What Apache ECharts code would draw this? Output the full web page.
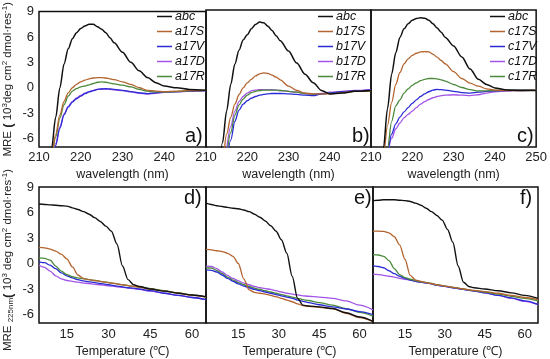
<!DOCTYPE html>
<html>
<head>
<meta charset="utf-8">
<script src="https://cdn.jsdelivr.net/npm/echarts@6/dist/echarts.min.js"></script>
<style>html,body{margin:0;padding:0;background:#fff}#c{width:550px;height:359px}</style>
</head>
<body>
<div id="c"></div>
<script>
// ---------- data ----------
const wavelength = [212,213,214,215,216,217,218,219,220,221,222,223,224,225,226,227,228,230,232,234,236,238,240,243,246,250];

const a_abc  = [-12,-7.2,-3.5,0,2.8,4.6,5.8,6.5,7.0,7.3,7.5,7.5,7.2,6.9,6.5,5.9,5.3,4.2,3.0,2.0,1.2,0.6,0.2,0.0,-0.2,-0.3];
const a_17S  = [-12,-8,-5.5,-3.2,-1.6,-0.6,0.0,0.4,0.7,0.9,1.05,1.15,1.2,1.2,1.15,1.05,0.95,0.7,0.4,0.0,-0.3,-0.4,-0.45,-0.4,-0.35,-0.3];
const a_17V  = [null,-9.5,-6.8,-4.8,-3.2,-2.3,-1.7,-1.3,-1.0,-0.7,-0.5,-0.35,-0.2,-0.15,-0.12,-0.15,-0.2,-0.3,-0.45,-0.6,-0.7,-0.6,-0.5,-0.45,-0.4,-0.35];
const a_17D  = [null,-9.3,-6.6,-4.6,-3.1,-2.2,-1.6,-1.2,-0.9,-0.65,-0.45,-0.3,-0.2,-0.15,-0.15,-0.2,-0.25,-0.35,-0.5,-0.65,-0.75,-0.65,-0.55,-0.5,-0.4,-0.35];
const a_17R  = [-12,-8.2,-5.8,-3.6,-2.0,-1.0,-0.4,-0.1,0.1,0.2,0.35,0.5,0.65,0.7,0.65,0.55,0.45,0.3,0.1,-0.2,-0.4,-0.5,-0.5,-0.45,-0.35,-0.3];

const b_abc  = [null,-11,-6.5,-2.8,0.3,2.7,4.3,5.5,6.1,6.8,7.3,7.6,7.5,7.1,6.6,6.0,5.4,4.2,2.8,1.5,0.5,-0.4,-0.8,-0.7,-0.5,-0.4];
const b_17S  = [null,-13,-8.5,-5.5,-3.5,-2.0,-0.9,-0.1,0.5,0.9,1.3,1.55,1.65,1.6,1.4,1.15,0.85,0.1,-0.4,-0.7,-0.8,-0.8,-0.8,-0.65,-0.5,-0.45];
const b_17V  = [null,null,null,-9,-6.2,-4.0,-2.7,-2.0,-1.6,-1.3,-1.1,-0.95,-0.85,-0.8,-0.75,-0.75,-0.75,-0.8,-0.85,-0.95,-1.0,-0.8,-0.7,-0.55,-0.45,-0.35];
const b_17D  = [null,null,null,-7.3,-4.6,-2.8,-1.7,-1.1,-0.7,-0.45,-0.35,-0.3,-0.3,-0.3,-0.3,-0.35,-0.4,-0.5,-0.6,-0.75,-0.85,-0.75,-0.6,-0.5,-0.4,-0.3];
const b_17R  = [null,null,null,-8.2,-5.3,-3.3,-2.1,-1.4,-0.95,-0.65,-0.5,-0.4,-0.35,-0.35,-0.35,-0.35,-0.4,-0.5,-0.6,-0.75,-0.85,-0.8,-0.7,-0.6,-0.5,-0.45];

const c_abc  = [-14,-7.2,-2.5,1.5,4.0,5.8,6.8,7.4,7.8,8.0,8.1,8.05,7.8,7.4,6.9,6.4,5.8,4.8,3.5,2.1,0.9,0.3,-0.1,-0.35,-0.4,-0.4];
const c_17S  = [-16,-8,-4.5,-1.8,0.3,1.7,2.7,3.3,3.7,3.95,4.1,4.15,4.1,3.85,3.5,3.1,2.7,1.8,1.0,0.45,0.1,-0.2,-0.35,-0.4,-0.4,-0.35];
const c_17V  = [null,-16,-7.5,-5.5,-4.3,-3.5,-2.9,-2.4,-1.9,-1.5,-1.1,-0.8,-0.55,-0.35,-0.28,-0.3,-0.35,-0.5,-0.65,-0.7,-0.6,-0.5,-0.45,-0.4,-0.35,-0.35];
const c_17D  = [null,null,-8.2,-6.0,-4.9,-4.2,-3.6,-3.2,-2.8,-2.4,-2.0,-1.7,-1.45,-1.25,-1.1,-1.0,-0.95,-0.9,-0.95,-1.0,-0.9,-0.7,-0.55,-0.45,-0.4,-0.35];
const c_17R  = [null,-12,-7.2,-4.0,-2.2,-1.5,-0.7,-0.2,0.2,0.5,0.75,0.9,1.0,1.0,0.95,0.85,0.7,0.3,-0.05,-0.3,-0.45,-0.45,-0.4,-0.35,-0.35,-0.35];

const temp_d = [5,7,9,11,13,15,17,19,21,23,25,27,29,31,33,35,37,39,41,45,50,55,60,65];
const d_abc = [7.0,6.95,6.9,6.85,6.8,6.75,6.55,6.35,6.1,5.8,5.4,4.95,4.4,3.8,2.3,-0.3,-1.9,-2.5,-2.7,-3.0,-3.25,-3.5,-3.7,-3.9];
const d_17S = [1.9,1.85,1.7,1.45,1.1,0.55,-0.4,-1.35,-1.75,-1.9,-2.0,-2.1,-2.2,-2.3,-2.4,-2.5,-2.6,-2.7,-2.8,-3.0,-3.25,-3.5,-3.75,-3.95];
const d_17V = [0.2,0.1,-0.2,-0.6,-1.1,-1.45,-1.7,-1.9,-2.05,-2.15,-2.25,-2.35,-2.45,-2.55,-2.65,-2.75,-2.85,-2.9,-3.0,-3.2,-3.5,-3.75,-4.0,-4.25];
const d_17D = [-0.2,-0.45,-0.9,-1.45,-1.8,-2.0,-2.1,-2.2,-2.3,-2.35,-2.45,-2.5,-2.6,-2.65,-2.75,-2.8,-2.9,-2.95,-3.05,-3.25,-3.5,-3.75,-4.0,-4.25];
const d_17R = [0.65,0.6,0.4,-0.3,-0.9,-1.3,-1.55,-1.7,-1.8,-1.9,-2.0,-2.1,-2.2,-2.3,-2.4,-2.5,-2.6,-2.7,-2.75,-2.95,-3.2,-3.45,-3.7,-3.95];

const temp_ef = [3,5,7,9,11,13,15,17,19,21,23,25,27,29,31,33,35,37,39,41,45,50,55,60,65];
const e_abc = [7.1,6.95,6.8,6.7,6.6,6.5,6.45,6.3,6.1,5.8,5.45,5.0,4.45,3.8,2.8,1.2,-1.5,-4.1,-4.9,-5.0,-5.1,-5.3,-5.8,-6.3,-6.8];
const e_17S = [1.65,1.6,1.5,1.4,1.2,0.85,0.0,-1.8,-3.1,-3.4,-3.5,-3.6,-3.75,-3.9,-4.1,-4.3,-4.5,-4.75,-4.95,-5.05,-5.15,-5.3,-5.85,-6.35,-6.85];
const e_17V = [-0.75,-0.8,-1.0,-1.35,-1.75,-2.1,-2.4,-2.65,-2.85,-3.05,-3.2,-3.35,-3.5,-3.65,-3.8,-3.95,-4.1,-4.3,-4.45,-4.6,-4.85,-5.1,-5.35,-5.65,-6.0];
const e_17D = [-0.3,-0.35,-0.6,-1.0,-1.4,-1.75,-2.05,-2.3,-2.5,-2.7,-2.85,-2.95,-3.05,-3.2,-3.35,-3.5,-3.6,-3.7,-3.8,-3.85,-3.95,-4.1,-4.4,-4.9,-5.45];
const e_17R = [-0.5,-0.55,-0.8,-1.2,-1.6,-1.95,-2.25,-2.5,-2.7,-2.9,-3.05,-3.2,-3.35,-3.5,-3.65,-3.8,-3.95,-4.1,-4.25,-4.35,-4.6,-4.9,-5.3,-5.75,-6.2];

const f_abc = [7.4,7.45,7.5,7.5,7.5,7.45,7.4,7.3,7.1,6.85,6.5,6.1,5.65,5.1,4.0,2.5,-0.3,-2.2,-2.7,-2.85,-3.0,-3.2,-3.45,-3.75,-4.1];
const f_17S = [3.8,3.8,3.78,3.6,3.15,2.2,0.5,-1.4,-1.95,-2.1,-2.25,-2.35,-2.5,-2.6,-2.7,-2.8,-2.9,-3.0,-3.1,-3.15,-3.3,-3.5,-3.75,-4.0,-4.25];
const f_17V = [-0.25,-0.35,-0.5,-0.85,-1.2,-1.5,-1.75,-1.95,-2.1,-2.2,-2.3,-2.4,-2.55,-2.65,-2.75,-2.85,-2.95,-3.05,-3.15,-3.25,-3.45,-3.75,-4.05,-4.4,-4.8];
const f_17D = [-1.25,-1.3,-1.4,-1.5,-1.6,-1.75,-1.85,-1.95,-2.1,-2.2,-2.3,-2.4,-2.55,-2.65,-2.75,-2.85,-2.95,-3.05,-3.15,-3.25,-3.45,-3.75,-4.1,-4.45,-4.85];
const f_17R = [1.05,1.0,0.85,0.35,-0.6,-1.3,-1.65,-1.85,-2.0,-2.15,-2.25,-2.35,-2.5,-2.6,-2.7,-2.8,-2.9,-3.0,-3.1,-3.2,-3.35,-3.6,-3.85,-4.1,-4.4];

const yTicks = [-6,-3,0,3,6,9];
const tempTicks = [15,30,45,60];
const legendA = ['abc','a17S','a17V','a17D','a17R'];
const legendB = ['abc','b17S','b17V','b17D','b17R'];
const legendC = ['abc','c17S','c17V','c17D','c17R'];
const panelLabels = ['a)','b)','c)','d)','e)','f)'];

// ---------- styling ----------
const COL = {abc:'#111111', S:'#b3642f', V:'#2b2bd6', D:'#a355e6', R:'#4a8a3a'};
const FONT = 'Liberation Sans, Arial, sans-serif';

const grids = [
  {left:37, top:10, width:169, height:137},
  {left:206, top:10, width:165, height:137},
  {left:371, top:10, width:167, height:137},
  {left:38, top:187, width:168, height:139},
  {left:206, top:187, width:167, height:139},
  {left:373, top:187, width:165, height:139}
].map(g => Object.assign(g, {show:true, borderColor:'#111', borderWidth:1.5, backgroundColor:'transparent'}));

const labelStyle = {fontFamily:FONT, fontSize:13, color:'#222'};

const xAxes = [];
for (let i=0;i<3;i++) xAxes.push({
  type:'value', gridIndex:i, min:210, max:250, interval:10,
  axisLine:{show:false}, axisTick:{show:false}, splitLine:{show:false},
  axisLabel:Object.assign({margin:4, showMaxLabel:i===2}, labelStyle),
  name:'wavelength (nm)', nameLocation:'middle', nameGap:21,
  nameTextStyle:{fontFamily:FONT, fontSize:12.5, color:'#222'}
});
for (let i=3;i<6;i++) xAxes.push({
  type:'value', gridIndex:i, min:i===3?5:3, max:65,
  axisLine:{show:false}, axisTick:{show:false}, splitLine:{show:false},
  axisLabel:Object.assign({margin:5, customValues:tempTicks}, labelStyle),
  name:'Temperature (\u2103)', nameLocation:'middle', nameGap:22,
  nameTextStyle:{fontFamily:FONT, fontSize:12.5, color:'#222'}
});

const supRich = {
  t:{fontFamily:FONT, fontSize:11.5, color:'#222', lineHeight:14},
  s:{fontFamily:FONT, fontSize:8, color:'#222', verticalAlign:'top', lineHeight:14},
  b:{fontFamily:FONT, fontSize:8, color:'#222', verticalAlign:'bottom', lineHeight:14},
  p:{fontFamily:FONT, fontSize:13, fontWeight:'bold', color:'#222', lineHeight:14}
};
const yAxes = [];
for (let i=0;i<6;i++) {
  const y = {
    type:'value', gridIndex:i, min:-7, max:9,
    axisLine:{show:false}, axisTick:{show:false}, splitLine:{show:false},
    axisLabel:Object.assign({show:(i===0||i===3), margin:5, customValues:yTicks}, labelStyle)
  };
  if (i===0) {
    y.name = '{t|MRE }{p|(}{t| 10}{s|3}{t|deg cm}{s|2}{t| dmol\u00b7res}{s|-1}{t|)}';
    y.nameLocation='middle'; y.nameRotate=90; y.nameGap=24;
    y.nameTextStyle = {rich:supRich};
  }
  if (i===3) {
    y.name = '{t|MRE }{b|225nm}{p|(}{t| 10}{s|3}{t| deg cm}{s|2}{t| dmol\u00b7res}{s|-1}{t|)}';
    y.nameLocation='middle'; y.nameRotate=90; y.nameGap=24;
    y.nameTextStyle = {rich:supRich, padding:[0,0,0,-10]};
  }
  yAxes.push(y);
}

function mk(name, xs, ys, color, gi, w) {
  return {
    type:'line', name:name, xAxisIndex:gi, yAxisIndex:gi,
    data: xs.map((x,k)=>[x, ys[k]]),
    symbol:'none', showSymbol:false, smooth:0.3, smoothMonotone:'x', clip:true,
    lineStyle:{color:color, width:w||1.3}, itemStyle:{color:color},
    emphasis:{disabled:true}, animation:false
  };
}

const series = [
  mk('a17D', wavelength, a_17D, COL.D, 0), mk('a17V', wavelength, a_17V, COL.V, 0),
  mk('a17R', wavelength, a_17R, COL.R, 0), mk('a17S', wavelength, a_17S, COL.S, 0),
  mk('abc', wavelength, a_abc, COL.abc, 0, 1.5),
  mk('b17D', wavelength, b_17D, COL.D, 1), mk('b17R', wavelength, b_17R, COL.R, 1),
  mk('b17V', wavelength, b_17V, COL.V, 1), mk('b17S', wavelength, b_17S, COL.S, 1),
  mk('abc', wavelength, b_abc, COL.abc, 1, 1.5),
  mk('c17D', wavelength, c_17D, COL.D, 2), mk('c17V', wavelength, c_17V, COL.V, 2),
  mk('c17R', wavelength, c_17R, COL.R, 2), mk('c17S', wavelength, c_17S, COL.S, 2),
  mk('abc', wavelength, c_abc, COL.abc, 2, 1.5),
  mk('d_D', temp_d, d_17D, COL.D, 3), mk('d_V', temp_d, d_17V, COL.V, 3),
  mk('d_R', temp_d, d_17R, COL.R, 3), mk('d_S', temp_d, d_17S, COL.S, 3),
  mk('d_abc', temp_d, d_abc, COL.abc, 3, 1.4),
  mk('e_D', temp_ef, e_17D, COL.D, 4), mk('e_R', temp_ef, e_17R, COL.R, 4),
  mk('e_V', temp_ef, e_17V, COL.V, 4), mk('e_S', temp_ef, e_17S, COL.S, 4),
  mk('e_abc', temp_ef, e_abc, COL.abc, 4, 1.4),
  mk('f_D', temp_ef, f_17D, COL.D, 5), mk('f_V', temp_ef, f_17V, COL.V, 5),
  mk('f_R', temp_ef, f_17R, COL.R, 5), mk('f_S', temp_ef, f_17S, COL.S, 5),
  mk('f_abc', temp_ef, f_abc, COL.abc, 5, 1.4)
];

function lg(data, left) {
  return {
    orient:'vertical', left:left, top:10, icon:'rect', itemWidth:15, itemHeight:1.5, itemGap:2,
    padding:0, selectedMode:false, data:data,
    textStyle:{fontFamily:FONT, fontSize:12.5, fontStyle:'italic', color:'#111', lineHeight:13, padding:[0,0,0,-2]}
  };
}

const labelPos = [
  {left:185, top:126}, {left:352, top:126}, {left:517, top:126},
  {left:184, top:188}, {left:354, top:188}, {left:520, top:188}
];
const titles = panelLabels.map((t,i)=>({
  text:t, left:labelPos[i].left, top:labelPos[i].top, padding:0,
  textStyle:{fontFamily:FONT, fontSize:20, fontWeight:'normal', color:'#111'}
}));

const chart = echarts.init(document.getElementById('c'), null, {renderer:'canvas'});
chart.setOption({
  animation:false,
  backgroundColor:'#fff',
  title:titles,
  legend:[lg(legendA,157), lg(legendB,318), lg(legendC,490)],
  grid:grids, xAxis:xAxes, yAxis:yAxes, series:series
});
</script>
</body>
</html>
